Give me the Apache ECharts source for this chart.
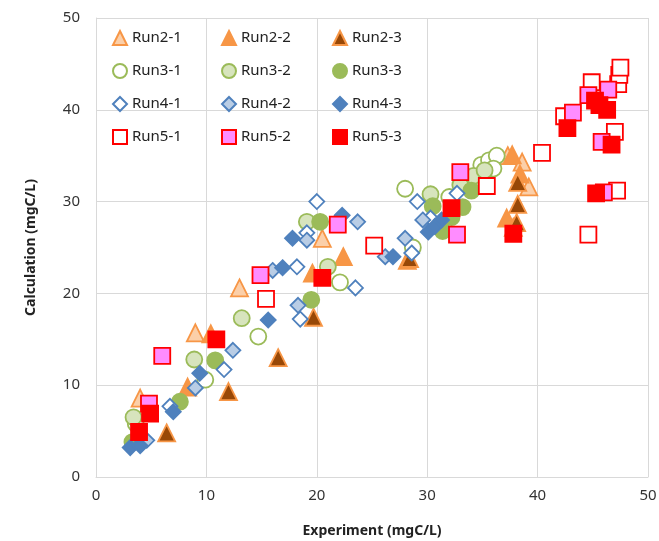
<!DOCTYPE html>
<html>
<head>
<meta charset="utf-8">
<script src="https://cdn.jsdelivr.net/npm/echarts@6/dist/echarts.min.js"></script>
<style>
  html, body { margin: 0; padding: 0; background: #fff; }
  #chart { width: 659px; height: 541px; }
</style>
</head>
<body>
<div id="chart"></div>
<script>
  // [experiment, calculation] pairs, mgC/L
  const run2_1 = [[4.0, 8.6], [9.0, 15.7], [13.0, 20.6], [20.5, 26.0], [37.3, 35.0], [38.6, 34.3], [39.2, 31.6]];
  const run2_2 = [[8.3, 9.8], [10.4, 15.6], [19.6, 22.2], [22.4, 24.0], [28.2, 23.6], [37.7, 35.1], [38.4, 33.0], [37.2, 28.2], [37.8, 27.2]];
  const run2_3 = [[6.4, 4.8], [12.0, 9.3], [16.5, 13.0], [19.7, 17.4], [28.4, 23.8], [38.2, 32.1], [38.2, 29.7], [38.1, 27.7]];
  const run3_1 = [[3.6, 5.8], [9.9, 10.6], [14.7, 15.3], [22.1, 21.2], [28.7, 25.0], [28.0, 31.4], [32.0, 30.5], [34.9, 34.0], [35.6, 34.5], [36.3, 35.0], [36.0, 33.6]];
  const run3_2 = [[3.4, 6.5], [8.9, 12.8], [13.2, 17.3], [19.1, 27.8], [21.0, 22.9], [30.3, 30.8], [33.0, 31.8], [34.2, 32.8], [35.2, 33.4]];
  const run3_3 = [[3.3, 3.8], [7.6, 8.2], [10.8, 12.7], [19.5, 19.3], [20.3, 27.8], [30.5, 29.5], [31.4, 26.8], [32.2, 28.3], [33.2, 29.4], [34.0, 31.2]];
  const run4_1 = [[4.2, 3.8], [6.7, 7.7], [11.6, 11.7], [18.2, 22.9], [18.5, 17.2], [19.1, 26.6], [20.0, 30.0], [23.5, 20.6], [28.6, 24.4], [29.1, 30.0], [30.3, 28.2], [32.7, 30.9]];
  const run4_2 = [[4.6, 4.0], [9.0, 9.7], [12.4, 13.8], [16.0, 22.5], [18.3, 18.7], [19.1, 25.8], [23.7, 27.8], [26.2, 24.0], [28.0, 26.0], [29.6, 28.0]];
  const run4_3 = [[3.1, 3.2], [4.0, 3.4], [7.0, 7.1], [9.4, 11.3], [15.6, 17.1], [16.9, 22.8], [17.8, 26.0], [22.3, 28.5], [26.9, 24.0], [30.1, 26.7], [30.7, 27.3], [31.3, 28.0]];
  const run5_1 = [[15.4, 19.4], [25.2, 25.2], [35.4, 31.7], [40.4, 35.3], [42.4, 39.3], [44.9, 43.0], [44.6, 26.4], [47.0, 37.6], [47.2, 31.2], [47.3, 42.8], [47.4, 43.8], [47.5, 44.6]];
  const run5_2 = [[4.8, 8.0], [6.0, 13.2], [14.9, 22.0], [21.9, 27.5], [32.7, 26.4], [33.0, 33.2], [43.2, 39.7], [44.6, 41.6], [46.4, 42.2], [45.8, 36.5], [46.0, 31.0]];
  const run5_3 = [[3.9, 4.9], [4.9, 6.9], [10.9, 15.0], [20.5, 21.7], [32.2, 29.3], [37.8, 26.5], [42.7, 38.0], [45.2, 41.0], [45.6, 40.5], [46.3, 40.0], [46.7, 36.2], [45.3, 30.9]];

  const FONT = 'Noto Sans';

  const mk = (name, data, symbol, size, fill, border) => ({
    name,
    type: 'scatter',
    data,
    symbol,
    symbolSize: size,
    itemStyle: { color: fill, borderColor: border, borderWidth: 1.8, opacity: 1 },
  });

  const series = [
    mk('Run2-1', run2_1, 'triangle', 17, '#fbcfa9', '#f79646'),
    mk('Run2-2', run2_2, 'triangle', 17, '#f79646', '#f79646'),
    mk('Run2-3', run2_3, 'triangle', 17, '#984807', '#f79646'),
    mk('Run3-1', run3_1, 'circle', 16, '#ffffff', '#9bbb59'),
    mk('Run3-2', run3_2, 'circle', 16, '#d7e4bd', '#9bbb59'),
    mk('Run3-3', run3_3, 'circle', 16, '#9bbb59', '#9bbb59'),
    mk('Run4-1', run4_1, 'diamond', 15, '#ffffff', '#4f81bd'),
    mk('Run4-2', run4_2, 'diamond', 15, '#b9cde5', '#4f81bd'),
    mk('Run4-3', run4_3, 'diamond', 15, '#4f81bd', '#4f81bd'),
    mk('Run5-1', run5_1, 'rect', 16, '#ffffff', '#ff0000'),
    mk('Run5-2', run5_2, 'rect', 16, '#ff8cff', '#ff0000'),
    mk('Run5-3', run5_3, 'rect', 16, '#ff0000', '#ff0000'),
  ];

  // one vertical legend per column, 3 columns x 4 rows like the original
  const legendCol = (left, names) => ({
    orient: 'vertical',
    left,
    top: 25,
    itemWidth: 14,
    itemHeight: 14,
    itemGap: 17,
    selectedMode: false,
    data: names,
    textStyle: { fontFamily: FONT, fontSize: 15, color: '#222' },
  });

  const chart = echarts.init(document.getElementById('chart'));
  chart.setOption({
    animation: false,
    backgroundColor: '#fff',
    grid: { left: 96, right: 11, top: 18, bottom: 64, outerBoundsMode: 'none' },
    legend: [
      legendCol(107, ['Run2-1', 'Run3-1', 'Run4-1', 'Run5-1']),
      legendCol(216, ['Run2-2', 'Run3-2', 'Run4-2', 'Run5-2']),
      legendCol(327, ['Run2-3', 'Run3-3', 'Run4-3', 'Run5-3']),
    ],
    xAxis: {
      type: 'value',
      min: 0,
      max: 50,
      interval: 10,
      name: 'Experiment (mgC/L)',
      nameLocation: 'middle',
      nameGap: 47,
      nameTextStyle: { fontFamily: FONT, fontSize: 14, fontWeight: 'bold', color: '#222' },
      axisLine: { show: true, lineStyle: { color: '#d9d9d9' } },
      axisTick: { show: false },
      axisLabel: { fontFamily: FONT, fontSize: 15, color: '#333', margin: 11 },
      splitLine: { lineStyle: { color: '#d9d9d9' } },
    },
    yAxis: {
      type: 'value',
      min: 0,
      max: 50,
      interval: 10,
      name: 'Calculation (mgC/L)',
      nameLocation: 'middle',
      nameGap: 58,
      nameTextStyle: { fontFamily: FONT, fontSize: 14, fontWeight: 'bold', color: '#222' },
      axisLine: { show: true, lineStyle: { color: '#d9d9d9' } },
      axisTick: { show: false },
      axisLabel: { fontFamily: FONT, fontSize: 15, color: '#333', margin: 16 },
      splitLine: { lineStyle: { color: '#d9d9d9' } },
    },
    series,
  });
</script>
</body>
</html>
